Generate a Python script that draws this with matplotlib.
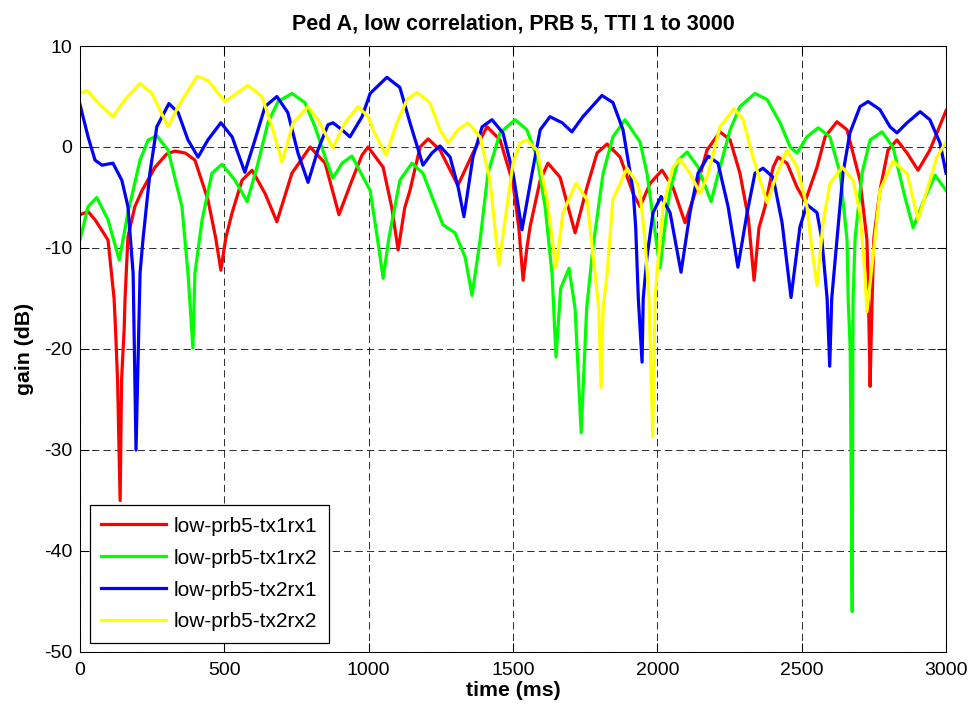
"""Channel gain traces for Ped A, low correlation, PRB 5."""

import matplotlib

matplotlib.use("Agg")
import matplotlib.pyplot as plt

# gain (dB) at selected times (ms)
time_tx1rx1 = [0, 28, 52, 97, 118, 123, 130, 139, 144, 153, 156, 166, 190, 215, 260, 300,
               329, 365, 398, 443, 470, 488, 505, 527, 561, 596, 641, 682, 734, 797, 849,
               897, 942, 977, 998, 1050, 1080, 1102, 1125, 1143, 1178, 1206, 1247, 1309,
               1361, 1410, 1455, 1500, 1520, 1535, 1548, 1559, 1594, 1621, 1663, 1715,
               1756, 1791, 1826, 1871, 1916, 1940, 1975, 2016, 2054, 2096, 2130, 2172,
               2217, 2252, 2286, 2315, 2335, 2352, 2373, 2401, 2418, 2449, 2484, 2512,
               2553, 2581, 2622, 2657, 2702, 2726, 2732, 2737, 2743, 2750, 2771, 2799,
               2830, 2865, 2903, 2944, 3000]
gain_tx1rx1 = [-6.7, -6.4, -7.2, -9.2, -15, -18, -23, -35, -23, -18, -15, -8.9, -5.9, -4.3,
               -2.0, -0.7, -0.4, -0.6, -1.3, -5.2, -9.0, -12.2, -9.0, -6.5, -3.3, -2.3,
               -4.6, -7.4, -2.6, 0.0, -1.6, -6.7, -3.3, -0.8, 0.0, -2.0, -6.0, -10.2,
               -6.0, -4.3, 0.0, 0.8, -0.3, -3.8, -0.6, 2.0, 0.7, -3.6, -8.0, -13.2, -10.0,
               -7.9, -3.3, -1.6, -3.0, -8.5, -4.0, -0.6, 0.3, -1.0, -4.6, -5.9, -3.6,
               -2.3, -4.0, -7.5, -4.6, -0.3, 1.5, 0.7, -2.6, -7.0, -13.2, -8.0, -5.9,
               -2.0, -1.0, -1.6, -4.0, -5.4, -2.0, 1.0, 2.5, 1.7, -3.3, -9.2, -16,
               -23.7, -16, -9.0, -4.3, -0.3, 0.7, -0.6, -2.3, -0.3, 3.6]

time_tx1rx2 = [0, 28, 58, 97, 136, 166, 208, 236, 266, 305, 353, 374, 391, 398, 423, 457,
               492, 537, 579, 613, 651, 686, 734, 779, 814, 849, 876, 908, 942, 1005,
               1030, 1050, 1070, 1084, 1108, 1150, 1188, 1223, 1257, 1299, 1334, 1358,
               1386, 1413, 1455, 1507, 1548, 1583, 1611, 1635, 1649, 1665, 1694, 1715,
               1736, 1755, 1777, 1812, 1846, 1888, 1940, 1964, 1990, 2009, 2030, 2044,
               2072, 2103, 2141, 2186, 2217, 2252, 2286, 2338, 2380, 2425, 2460, 2484,
               2518, 2557, 2598, 2633, 2657, 2661, 2668, 2675, 2677, 2678, 2685, 2709,
               2737, 2778, 2816, 2858, 2886, 2920, 2962, 3000]
gain_tx1rx2 = [-9.2, -5.9, -5.0, -7.2, -11.2, -6.5, -1.3, 0.7, 1.1, -0.3, -5.9, -12.5,
               -19.9, -12.5, -7.2, -2.6, -1.7, -3.3, -5.4, -2.0, 2.4, 4.5, 5.3, 4.4, 2.0,
               -1.0, -3.1, -1.6, -0.9, -4.3, -9.0, -13.0, -9.0, -6.9, -3.3, -1.6, -2.6,
               -5.2, -7.7, -8.5, -10.9, -14.7, -9.2, -2.6, 1.4, 2.7, 1.7, -1.0, -5.9,
               -12.5, -20.8, -14.0, -12.0, -16.0, -28.3, -16.0, -9.9, -2.6, 1.0, 2.7,
               0.5, -2.6, -8.0, -12.0, -7.0, -4.3, -1.3, -0.5, -2.0, -5.4, -2.0, 1.7,
               4.0, 5.3, 4.7, 2.4, 0.0, -0.6, 1.0, 1.9, 1.0, -2.6, -9.2, -15, -20, -46,
               -20, -15, -9.0, -2.6, 0.7, 1.5, 0.0, -5.0, -8.0, -5.5, -2.8, -4.3]

time_tx2rx1 = [0, 28, 52, 76, 114, 145, 166, 184, 194, 208, 218, 242, 266, 308, 340, 374,
               409, 443, 488, 527, 571, 606, 641, 682, 720, 755, 790, 824, 859, 876, 908,
               935, 977, 1005, 1063, 1108, 1143, 1188, 1219, 1247, 1282, 1310, 1330,
               1361, 1393, 1427, 1465, 1500, 1531, 1566, 1594, 1628, 1670, 1704, 1742,
               1808, 1846, 1881, 1916, 1925, 1934, 1947, 1951, 1964, 1985, 2013, 2044,
               2082, 2113, 2141, 2176, 2210, 2245, 2279, 2311, 2338, 2366, 2401, 2432,
               2463, 2494, 2518, 2553, 2570, 2588, 2597, 2604, 2622, 2643, 2667, 2702,
               2730, 2771, 2806, 2830, 2865, 2910, 2944, 2979, 3000]
gain_tx2rx1 = [4.2, 1.0, -1.3, -1.8, -1.6, -3.3, -5.9, -12.5, -30, -12.5, -9.2, -2.6, 2.0,
               4.3, 3.4, 0.7, -1.0, 0.7, 2.4, 1.0, -2.5, 0.7, 4.0, 5.0, 3.4, -0.6, -3.5,
               -0.3, 2.2, 2.4, 1.7, 1.0, 3.0, 5.3, 6.9, 5.9, 2.4, -1.8, -0.6, 0.1, -1.0,
               -4.0, -6.9, -1.0, 2.0, 2.7, 1.4, -2.6, -8.2, -2.6, 1.7, 3.0, 2.4, 1.5, 3.0,
               5.1, 4.4, 1.7, -4.3, -8.0, -15, -21.3, -15, -10.9, -6.5, -4.9, -6.5,
               -12.4, -6.5, -2.6, -0.9, -1.6, -5.9, -11.9, -6.5, -2.6, -2.1, -3.0, -7.5,
               -14.9, -7.9, -5.7, -6.5, -9.2, -15, -21.7, -15, -9.2, -2.6, 1.4, 4.0, 4.5,
               3.7, 2.0, 1.4, 2.4, 3.5, 2.7, 0.4, -2.6]

time_tx2rx2 = [0, 24, 62, 114, 156, 208, 249, 305, 340, 405, 443, 502, 582, 630, 665, 700,
               738, 790, 824, 876, 918, 963, 998, 1015, 1060, 1098, 1133, 1167, 1212,
               1247, 1275, 1309, 1344, 1386, 1420, 1451, 1479, 1500, 1524, 1548, 1583,
               1618, 1649, 1673, 1718, 1756, 1784, 1797, 1805, 1812, 1826, 1846, 1895,
               1930, 1940, 1957, 1971, 1984, 1992, 1999, 2020, 2054, 2078, 2113, 2148,
               2176, 2217, 2266, 2297, 2331, 2380, 2415, 2449, 2484, 2518, 2539, 2553,
               2574, 2598, 2640, 2678, 2702, 2719, 2726, 2747, 2771, 2816, 2865, 2903,
               2934, 2968, 3000]
gain_tx2rx2 = [5.3, 5.6, 4.4, 3.0, 4.7, 6.3, 5.3, 2.0, 4.0, 7.0, 6.6, 4.5, 6.1, 5.0, 2.0,
               -1.5, 2.4, 4.0, 2.7, -0.1, 2.4, 4.0, 3.0, 1.7, -0.8, 2.4, 4.7, 5.4, 4.4,
               1.7, 0.4, 1.7, 2.4, 1.0, -3.3, -11.7, -5.9, -1.6, 0.4, 0.7, -0.3, -5.2,
               -12.0, -6.5, -3.6, -5.2, -12.5, -16, -23.8, -16, -12.5, -5.2, -2.1, -3.6,
               -4.6, -9.2, -15, -28.7, -15, -12.5, -5.9, -2.0, -1.2, -2.6, -4.6, -2.6, 2.0,
               3.8, 2.7, -1.0, -5.5, -2.6, -0.3, -2.0, -5.9, -10.9, -13.7, -7.5, -3.6,
               -2.0, -3.3, -6.5, -12.5, -16.3, -10.9, -4.3, -1.4, -2.6, -7.2, -4.3, -1.0,
               0.5]

series_labels = ["low-prb5-tx1rx1", "low-prb5-tx1rx2", "low-prb5-tx2rx1", "low-prb5-tx2rx2"]
series_colors = ["#ff0000", "#00ff00", "#0000ff", "#ffff00"]
x_ticks = [0, 500, 1000, 1500, 2000, 2500, 3000]
y_ticks = [-50, -40, -30, -20, -10, 0, 10]

plt.rcParams["font.family"] = ["Liberation Sans", "DejaVu Sans"]
plt.rcParams["axes.unicode_minus"] = False


def main():
    fig = plt.figure(figsize=(9.71, 7.11), dpi=100)
    ax = fig.add_axes([0.0824, 0.0830, 0.8919, 0.8523])

    series = [
        (time_tx1rx1, gain_tx1rx1),
        (time_tx1rx2, gain_tx1rx2),
        (time_tx2rx1, gain_tx2rx1),
        (time_tx2rx2, gain_tx2rx2),
    ]
    for (times, gains), label, color in zip(series, series_labels, series_colors):
        ax.plot(times, gains, color=color, linewidth=2.3, label=label,
                solid_joinstyle="round")

    ax.set_xlim(0, 3000)
    ax.set_ylim(-50, 10)
    ax.set_xticks(x_ticks)
    ax.set_yticks(y_ticks)
    ax.grid(True, color="black", linestyle=(0, (7, 4)), linewidth=0.75, alpha=0.8)
    ax.set_axisbelow(True)
    ax.tick_params(direction="in", length=6.3, width=0.75, top=True, right=True,
                   labelsize=14)
    ax.tick_params(axis="x", pad=7)
    ax.tick_params(axis="y", pad=5.5)
    for spine in ax.spines.values():
        spine.set_linewidth(0.75)

    ax.set_title("Ped A, low correlation, PRB 5, TTI 1 to 3000",
                 fontsize=15.5, fontweight="bold", pad=12)
    ax.set_xlabel("time (ms)", fontsize=15.3, fontweight="bold", labelpad=2)
    ax.set_ylabel("gain (dB)", fontsize=15.3, fontweight="bold", labelpad=7)

    legend = ax.legend(loc="lower left", bbox_to_anchor=(0.0115, 0.0149),
                       borderaxespad=0, fontsize=15, fancybox=False,
                       framealpha=1, edgecolor="black", handlelength=3.1,
                       handletextpad=0.38, labelspacing=0.62, borderpad=0.55)
    legend.get_frame().set_linewidth(0.9)

    fig.savefig("out.png", dpi=100)
    plt.close(fig)


if __name__ == "__main__":
    main()
